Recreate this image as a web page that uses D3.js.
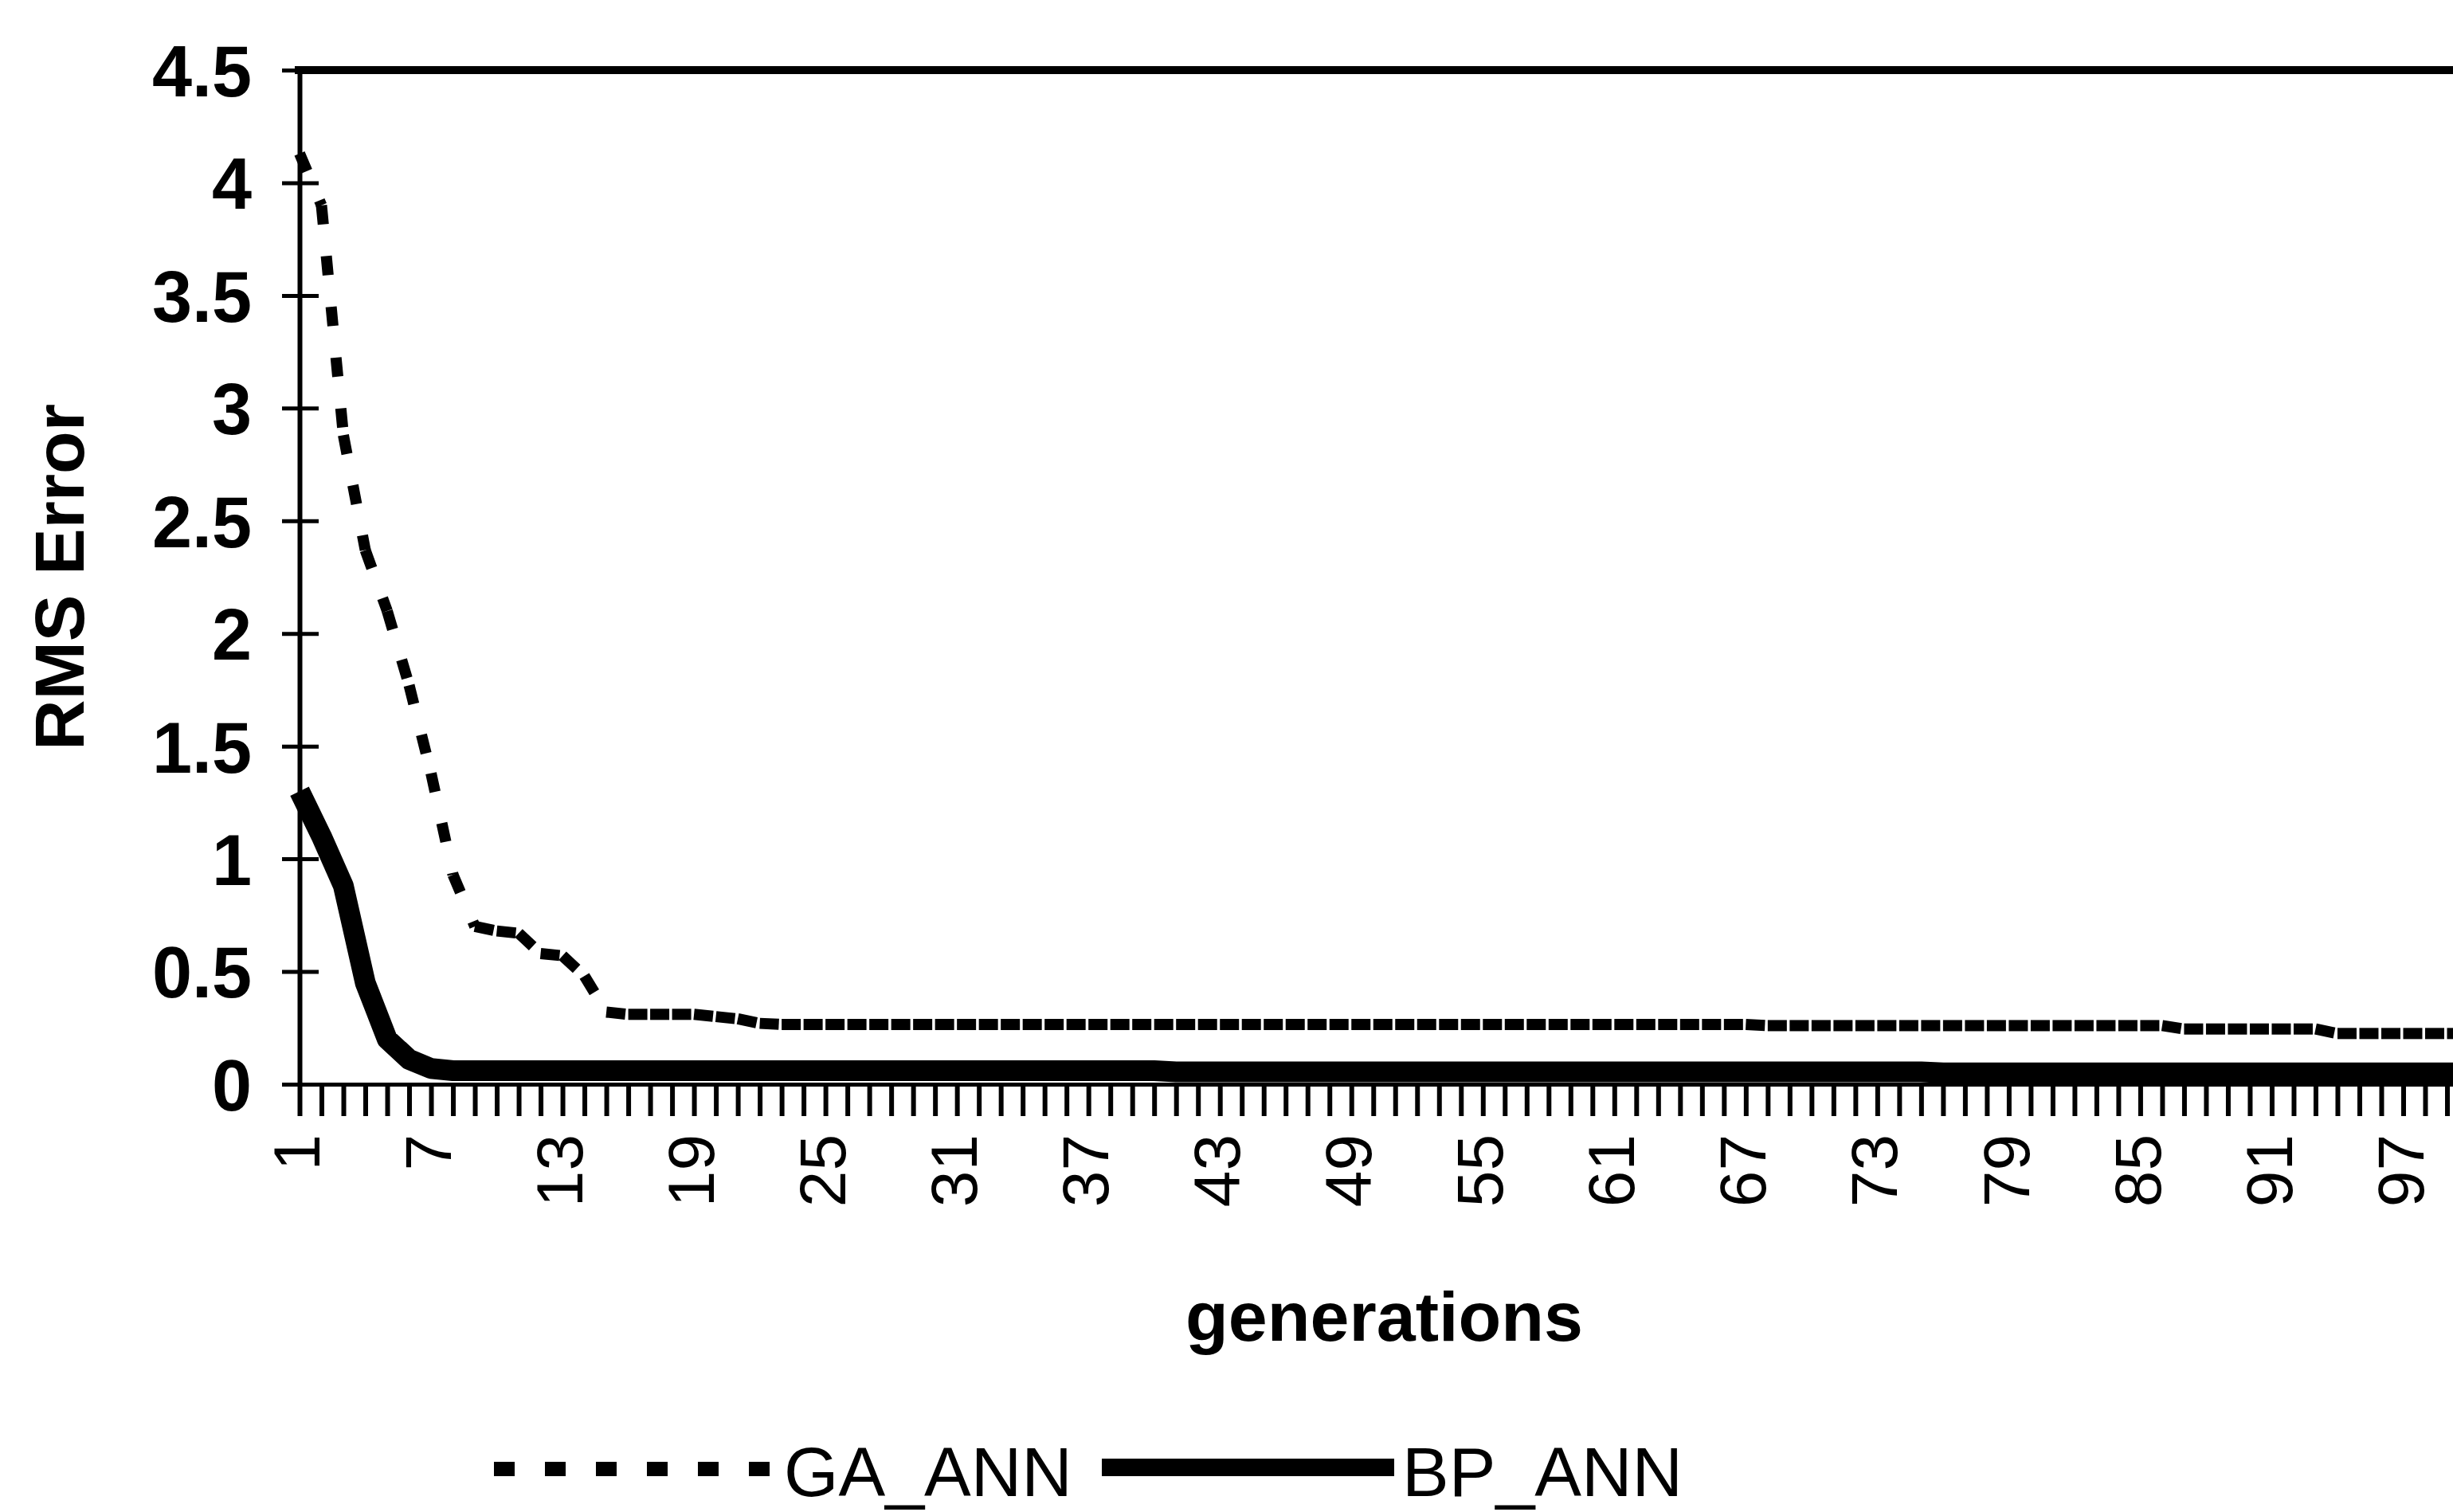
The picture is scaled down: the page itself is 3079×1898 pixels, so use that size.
<!DOCTYPE html>
<html>
<head>
<meta charset="utf-8">
<script src="https://cdn.jsdelivr.net/npm/d3@7/dist/d3.min.js"></script>
<style>
	body { margin: 0; background: #fff; }
	text { font-family: "Liberation Sans", Arial, sans-serif; fill: #000; }
</style>
</head>
<body>
<div id="chart"></div>
<script>
var generations = d3.range(1, 101);

var gaAnn = [
	4.13, 3.90, 2.88, 2.37, 2.10, 1.77, 1.38, 0.93, 0.70, 0.68,
	0.67, 0.58, 0.57, 0.48, 0.32, 0.31, 0.31, 0.31, 0.31, 0.30,
	0.29, 0.27, 0.265, 0.265, 0.265, 0.265, 0.265, 0.265, 0.265, 0.265,
	0.265, 0.265, 0.265, 0.265, 0.265, 0.265, 0.265, 0.265, 0.265, 0.265,
	0.265, 0.265, 0.265, 0.265, 0.265, 0.265, 0.265, 0.265, 0.265, 0.265,
	0.265, 0.265, 0.265, 0.265, 0.265, 0.265, 0.265, 0.265, 0.265, 0.265,
	0.265, 0.265, 0.265, 0.265, 0.265, 0.265, 0.265, 0.26, 0.26, 0.26,
	0.26, 0.26, 0.26, 0.26, 0.26, 0.26, 0.26, 0.26, 0.26, 0.26,
	0.26, 0.26, 0.26, 0.26, 0.26, 0.26, 0.245, 0.245, 0.245, 0.245,
	0.245, 0.245, 0.245, 0.225, 0.225, 0.225, 0.225, 0.225, 0.225, 0.225
];

var bpAnn = [
	1.30, 1.10, 0.88, 0.45, 0.20, 0.11, 0.07, 0.06, 0.06, 0.06,
	0.06, 0.06, 0.06, 0.06, 0.06, 0.06, 0.06, 0.06, 0.06, 0.06,
	0.06, 0.06, 0.06, 0.06, 0.06, 0.06, 0.06, 0.06, 0.06, 0.06,
	0.06, 0.06, 0.06, 0.06, 0.06, 0.06, 0.06, 0.06, 0.06, 0.06,
	0.055, 0.055, 0.055, 0.055, 0.055, 0.055, 0.055, 0.055, 0.055, 0.055,
	0.055, 0.055, 0.055, 0.055, 0.055, 0.055, 0.055, 0.055, 0.055, 0.055,
	0.055, 0.055, 0.055, 0.055, 0.055, 0.055, 0.055, 0.055, 0.055, 0.055,
	0.055, 0.055, 0.055, 0.055, 0.055, 0.05, 0.05, 0.05, 0.05, 0.05,
	0.05, 0.05, 0.05, 0.05, 0.05, 0.05, 0.05, 0.05, 0.05, 0.05,
	0.05, 0.05, 0.05, 0.05, 0.05, 0.05, 0.05, 0.05, 0.05, 0.05
];

var yTicks = [0, 0.5, 1, 1.5, 2, 2.5, 3, 3.5, 4, 4.5];
var xTickLabels = [1, 7, 13, 19, 25, 31, 37, 43, 49, 55, 61, 67, 73, 79, 85, 91, 97];
var seriesNames = ["GA_ANN", "BP_ANN"];

var width = 3079,
	height = 1898,
	plotLeft = 376,
	plotRight = 3099,
	plotTop = 88,
	plotBottom = 1361;

var xScale = d3.scaleLinear()
	.domain([1, 100])
	.range([plotLeft, plotRight])
;

var yScale = d3.scaleLinear()
	.domain([0, 4.5])
	.range([plotBottom, plotTop])
;

var svg = d3.select("#chart")
	.append("svg")
	.attr("width", width)
	.attr("height", height)
;

/*
	Plot frame (top and right edges)
*/
svg.append("line")
	.attr("x1", plotLeft - 6).attr("x2", plotRight)
	.attr("y1", plotTop).attr("y2", plotTop)
	.attr("stroke", "#000")
	.attr("stroke-width", 10)
;
svg.append("line")
	.attr("x1", plotRight).attr("x2", plotRight)
	.attr("y1", plotTop).attr("y2", plotBottom)
	.attr("stroke", "#000")
	.attr("stroke-width", 10)
;

/*
	Y axis, ticks cross the axis line
*/
var yAxis = svg.append("g")
	.attr("transform", "translate(" + plotLeft + ",0)")
	.call(d3.axisLeft(yScale)
		.tickValues(yTicks)
		.tickSize(22)
		.tickSizeOuter(0)
		.tickFormat(function(d) { return String(d); }))
;
yAxis.select(".domain").attr("stroke-width", 6);
yAxis.selectAll(".tick line")
	.attr("x1", 24)
	.attr("x2", -22)
	.attr("stroke-width", 5)
;
yAxis.selectAll(".tick text")
	.attr("x", -60)
	.attr("dy", "0.36em")
	.style("font-size", "90px")
	.style("font-weight", "bold")
	.style("font-family", "'Liberation Sans', Arial, sans-serif")
;

/*
	X axis, one tick per generation, label every 6th
*/
var xAxis = svg.append("g")
	.attr("transform", "translate(0," + plotBottom + ")")
	.call(d3.axisBottom(xScale)
		.tickValues(generations)
		.tickSize(40)
		.tickSizeOuter(0)
		.tickFormat(function(d) { return xTickLabels.indexOf(d) >= 0 ? String(d) : ""; }))
;
xAxis.select(".domain").attr("stroke-width", 5);
xAxis.selectAll(".tick line").attr("stroke-width", 6);
xAxis.selectAll(".tick text")
	.attr("transform", "rotate(-90)")
	.attr("x", -63)
	.attr("y", 0)
	.attr("dy", "0.3em")
	.attr("text-anchor", "end")
	.style("font-size", "82px")
	.style("font-weight", "normal")
	.style("font-family", "'Liberation Sans', Arial, sans-serif")
;

/*
	GA_ANN: dashed, pattern restarts on every segment
*/
var gaPoints = generations.map(function(g, i) {
	return [xScale(g), yScale(gaAnn[i])];
});
var lineGen = d3.line();

svg.append("g")
	.selectAll("path")
	.data(d3.pairs(gaPoints))
	.enter()
	.append("path")
	.attr("d", function(d) { return lineGen(d); })
	.attr("fill", "none")
	.attr("stroke", "#000")
	.attr("stroke-width", 14)
	.attr("stroke-dasharray", "24 40")
;

/*
	BP_ANN: heavy solid line
*/
svg.append("path")
	.datum(generations)
	.attr("d", d3.line()
		.x(function(d) { return xScale(d); })
		.y(function(d, i) { return yScale(bpAnn[i]); }))
	.attr("fill", "none")
	.attr("stroke", "#000")
	.attr("stroke-width", 26)
	.attr("stroke-linejoin", "round")
;

/*
	Axis titles
*/
svg.append("text")
	.attr("transform", "translate(105," + ((plotTop + plotBottom) / 2) + ") rotate(-90)")
	.attr("text-anchor", "middle")
	.style("font-size", "88px")
	.style("font-weight", "bold")
	.text("RMS Error")
;
svg.append("text")
	.attr("x", (plotLeft + plotRight) / 2)
	.attr("y", 1683)
	.attr("text-anchor", "middle")
	.style("font-size", "88px")
	.style("font-weight", "bold")
	.text("generations")
;

/*
	Legend
*/
var legend = svg.append("g");
legend.append("line")
	.attr("x1", 620).attr("x2", 966)
	.attr("y1", 1844).attr("y2", 1844)
	.attr("stroke", "#000")
	.attr("stroke-width", 18)
	.attr("stroke-dasharray", "26 38")
;
legend.append("text")
	.attr("x", 984)
	.attr("y", 1878)
	.style("font-size", "88px")
	.text(seriesNames[0])
;
legend.append("line")
	.attr("x1", 1383).attr("x2", 1750)
	.attr("y1", 1842).attr("y2", 1842)
	.attr("stroke", "#000")
	.attr("stroke-width", 22)
;
legend.append("text")
	.attr("x", 1760)
	.attr("y", 1878)
	.style("font-size", "88px")
	.text(seriesNames[1])
;
</script>
</body>
</html>
